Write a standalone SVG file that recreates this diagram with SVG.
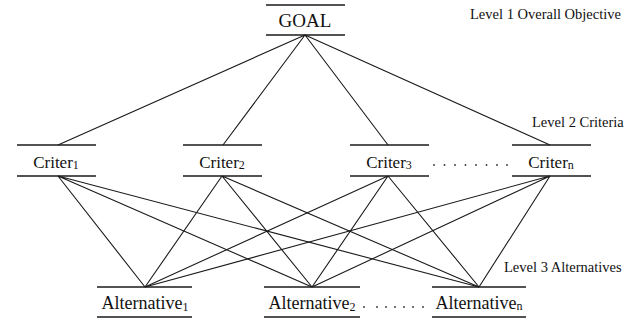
<svg xmlns="http://www.w3.org/2000/svg" width="640" height="327" viewBox="0 0 640 327">
<style>
.bar{stroke:#1a1a1a;stroke-width:1.6}
.c{stroke:#1a1a1a;stroke-width:1.1;fill:none}
.d{fill:#333}
</style>
<rect width="640" height="327" fill="#fff"/>
<g id="connectors">
<path class="c" d="M305,35 L58,145 M305,35 L223,145 M305,35 L388,145 M305,35 L550,145"/>
<path class="c" d="M58,176 L145,287 M58,176 L312,287 M58,176 L479,287"/>
<path class="c" d="M222,176 L145,287 M222,176 L312,287 M222,176 L479,287"/>
<path class="c" d="M388,176 L145,287 M388,176 L312,287 M388,176 L479,287"/>
<path class="c" d="M550,176 L145,287 M550,176 L312,287 M550,176 L479,287"/>
</g>
<g id="goal">
<line class="bar" x1="266" y1="5" x2="345" y2="5"/>
<line class="bar" x1="266" y1="35" x2="345" y2="35"/>
<text x="305" y="27" font-family="Liberation Serif" font-size="19" text-anchor="middle" fill="#111">GOAL</text>
</g>
<g id="criter1">
<line class="bar" x1="17" y1="145" x2="96" y2="145"/>
<line class="bar" x1="17" y1="176" x2="96" y2="176"/>
<text x="56" y="168" font-family="Liberation Serif" font-size="17" text-anchor="middle" fill="#111">Criter<tspan font-size="12" dy="1">1</tspan></text>
</g>
<g id="criter2">
<line class="bar" x1="183" y1="145" x2="262" y2="145"/>
<line class="bar" x1="183" y1="176" x2="262" y2="176"/>
<text x="222" y="168" font-family="Liberation Serif" font-size="17" text-anchor="middle" fill="#111">Criter<tspan font-size="12" dy="1">2</tspan></text>
</g>
<g id="criter3">
<line class="bar" x1="350" y1="145" x2="429" y2="145"/>
<line class="bar" x1="350" y1="176" x2="429" y2="176"/>
<text x="389" y="168" font-family="Liberation Serif" font-size="17" text-anchor="middle" fill="#111">Criter<tspan font-size="12" dy="1">3</tspan></text>
</g>
<g id="critern">
<line class="bar" x1="512" y1="145" x2="591" y2="145"/>
<line class="bar" x1="512" y1="176" x2="591" y2="176"/>
<text x="551" y="168" font-family="Liberation Serif" font-size="17" text-anchor="middle" fill="#111">Criter<tspan font-size="12" dy="1">n</tspan></text>
</g>
<g id="criter-dots">
<circle class="d" cx="434" cy="165" r="0.9"/><circle class="d" cx="444.5" cy="165" r="0.9"/><circle class="d" cx="455" cy="165" r="0.9"/><circle class="d" cx="465.5" cy="165" r="0.9"/><circle class="d" cx="476" cy="165" r="0.9"/><circle class="d" cx="486.5" cy="165" r="0.9"/><circle class="d" cx="497" cy="165" r="0.9"/><circle class="d" cx="507" cy="165" r="0.9"/>
</g>
<g id="alt1">
<line class="bar" x1="97" y1="287" x2="192" y2="287"/>
<line class="bar" x1="97" y1="317" x2="192" y2="317"/>
<text x="145" y="309" font-family="Liberation Serif" font-size="18" text-anchor="middle" fill="#111">Alternative<tspan font-size="12" dy="2">1</tspan></text>
</g>
<g id="alt2">
<line class="bar" x1="264" y1="287" x2="360" y2="287"/>
<line class="bar" x1="264" y1="317" x2="360" y2="317"/>
<text x="312" y="309" font-family="Liberation Serif" font-size="18" text-anchor="middle" fill="#111">Alternative<tspan font-size="12" dy="2">2</tspan></text>
</g>
<g id="altn">
<line class="bar" x1="432" y1="287" x2="526" y2="287"/>
<line class="bar" x1="432" y1="317" x2="526" y2="317"/>
<text x="479" y="309" font-family="Liberation Serif" font-size="18" text-anchor="middle" fill="#111">Alternative<tspan font-size="12" dy="1">n</tspan></text>
</g>
<g id="alt-dots">
<circle class="d" cx="364" cy="307" r="0.9"/><circle class="d" cx="377" cy="307" r="0.9"/><circle class="d" cx="386" cy="307" r="0.9"/><circle class="d" cx="395" cy="307" r="0.9"/><circle class="d" cx="404" cy="307" r="0.9"/><circle class="d" cx="413" cy="307" r="0.9"/><circle class="d" cx="423" cy="307" r="0.9"/>
</g>
<g id="levels">
<text x="470" y="19" font-family="Liberation Serif" font-size="14.5" fill="#111">Level 1 Overall Objective</text>
<text x="532" y="127" font-family="Liberation Serif" font-size="14.5" fill="#111">Level 2 Criteria</text>
<text x="504" y="272" font-family="Liberation Serif" font-size="14.5" fill="#111">Level 3 Alternatives</text>
</g>
</svg>
